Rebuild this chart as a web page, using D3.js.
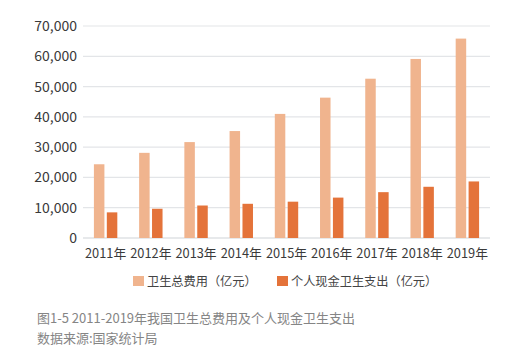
<!DOCTYPE html>
<html><head><meta charset="utf-8">
<script src="https://cdn.jsdelivr.net/npm/d3@7"></script>
<style>body{margin:0;background:#fff;} svg{display:block;}</style>
</head><body>
<script>
const years = ["2011年","2012年","2013年","2014年","2015年","2016年","2017年","2018年","2019年"];
const totalHealth = [24346,28119,31669,35312,40975,46345,52598,59122,65841];
const outOfPocket = [8465,9656,10729,11295,11993,13338,15134,16912,18674];
const yTicks = [0,10000,20000,30000,40000,50000,60000,70000];
const seriesNames = ["卫生总费用（亿元）","个人现金卫生支出（亿元）"];
const colors = ["#F0B48E","#E4733A"];
const captionLines = ["图1-5 2011-2019年我国卫生总费用及个人现金卫生支出","数据来源:国家统计局"];

(function(){
const W=518,H=359;
const svg=d3.select("body").append("svg").attr("width",W).attr("height",H);
const font="'Noto Sans CJK SC','Noto Sans',sans-serif";
const mLeft=83,mRight=490,mTop=26,mBottom=238;
const x=d3.scaleBand().domain(years).range([mLeft,mRight]);
const y=d3.scaleLinear().domain([0,70000]).range([mBottom,mTop]);

svg.append("g").selectAll("line").data(yTicks).join("line")
 .attr("x1",mLeft).attr("x2",mRight).attr("y1",d=>y(d)).attr("y2",d=>y(d))
 .attr("stroke",d=>d===0?"#cfd3d8":"#e3e5e8").attr("stroke-width",1.2);
svg.append("g").selectAll("text").data(yTicks).join("text")
 .attr("x",77).attr("y",d=>y(d)+5).attr("text-anchor","end")
 .attr("font-family",font).attr("font-size",14).attr("fill","#3a3a3a")
 .text(d3.format(","));

const bw=10.5;
const g=svg.append("g");
g.selectAll(".a").data(years).join("rect")
 .attr("x",(d)=>x(d)+x.bandwidth()/2-bw-1.2).attr("width",bw)
 .attr("y",(d,i)=>y(totalHealth[i])).attr("height",(d,i)=>mBottom-y(totalHealth[i]))
 .attr("fill",colors[0]);
g.selectAll(".b").data(years).join("rect")
 .attr("x",(d)=>x(d)+x.bandwidth()/2+1.2).attr("width",bw)
 .attr("y",(d,i)=>y(outOfPocket[i])).attr("height",(d,i)=>mBottom-y(outOfPocket[i]))
 .attr("fill",colors[1]);

svg.append("g").selectAll("text").data(years).join("text")
 .attr("x",d=>x(d)+x.bandwidth()/2).attr("y",257.5).attr("text-anchor","middle")
 .attr("font-family",font).attr("font-size",12.8).attr("fill","#3a3a3a").text(d=>d);

const lx=[133,277];
seriesNames.forEach((n,i)=>{
  svg.append("rect").attr("x",lx[i]).attr("y",276).attr("width",11).attr("height",10).attr("fill",colors[i]);
  svg.append("text").attr("x",lx[i]+14).attr("y",285.5).attr("font-family",font).attr("font-size",12.2)
   .attr("fill","#444").text(n);
});
captionLines.forEach((t,i)=>{
  svg.append("text").attr("x",37).attr("y",323+i*20).attr("font-family",font).attr("font-size",13)
   .attr("fill","#858585").style("white-space","pre").text(t);
});
})();
</script>
</body></html>
